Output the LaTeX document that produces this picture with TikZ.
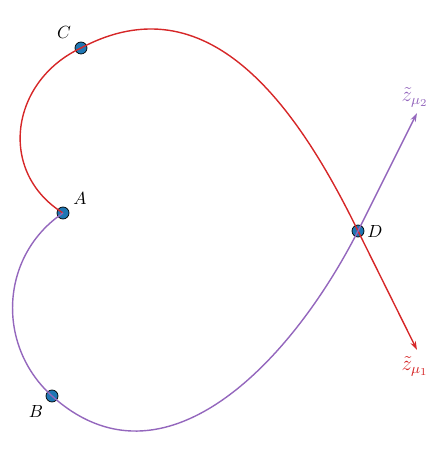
\documentclass[tikz,border=0pt]{standalone}
\usepackage{amssymb, amsmath}
\usetikzlibrary{arrows.meta}

\definecolor{tabred}{HTML}{D62728}
\definecolor{tabpurple}{HTML}{9467BD}
\definecolor{tabblue}{HTML}{1F77B4}

\tikzset{
  pt/.style={circle, draw=black, fill=tabblue, inner sep=0pt, minimum size=2.4mm},
  redline/.style={tabred, thick},
  purpleline/.style={tabpurple, thick}
}

\begin{document}
\begin{tikzpicture}[>={Stealth[length=5pt, width=3.2pt]}]
\useasboundingbox (0,0) rectangle (8.8,9.44);

% points on the loop
\node[pt] (A) at (1.26, 5.18) {};
\node[pt] (B) at (1.04, 1.52) {};
\node[pt] (C) at (1.62, 8.48) {};
\node[pt] (D) at (7.16, 4.82) {};

\node (lA) at (1.6, 5.46) {$A$};
\node (lB) at (0.72, 1.22) {$B$};
\node (lC) at (1.28, 8.78) {$C$};
\node (lD) at (7.5, 4.82) {$D$};

% ends of the two branches
\coordinate (z1) at (8.34, 2.44);
\coordinate (z2) at (8.34, 7.18);
\node[tabred, font=\large] (lz1) at (8.3, 2.12) {$\tilde{z}_{\mu_1}$};
\node[tabpurple, font=\large] (lz2) at (8.3, 7.5) {$\tilde{z}_{\mu_2}$};

% red branch
\draw[redline] (A.center) to[out=148, in=205, looseness=1.2] (C.center)
  to[out=28, in=116, looseness=1.1] (D.center);
\draw[redline, ->] (D.center) -- (z1);

% purple branch
\draw[purpleline] (A.center) to[out=214, in=138, looseness=1.06] (B.center)
  to[out=-42, in=243, looseness=1.1] (D.center);
\draw[purpleline, ->] (D.center) -- (z2);

\end{tikzpicture}
\end{document}
